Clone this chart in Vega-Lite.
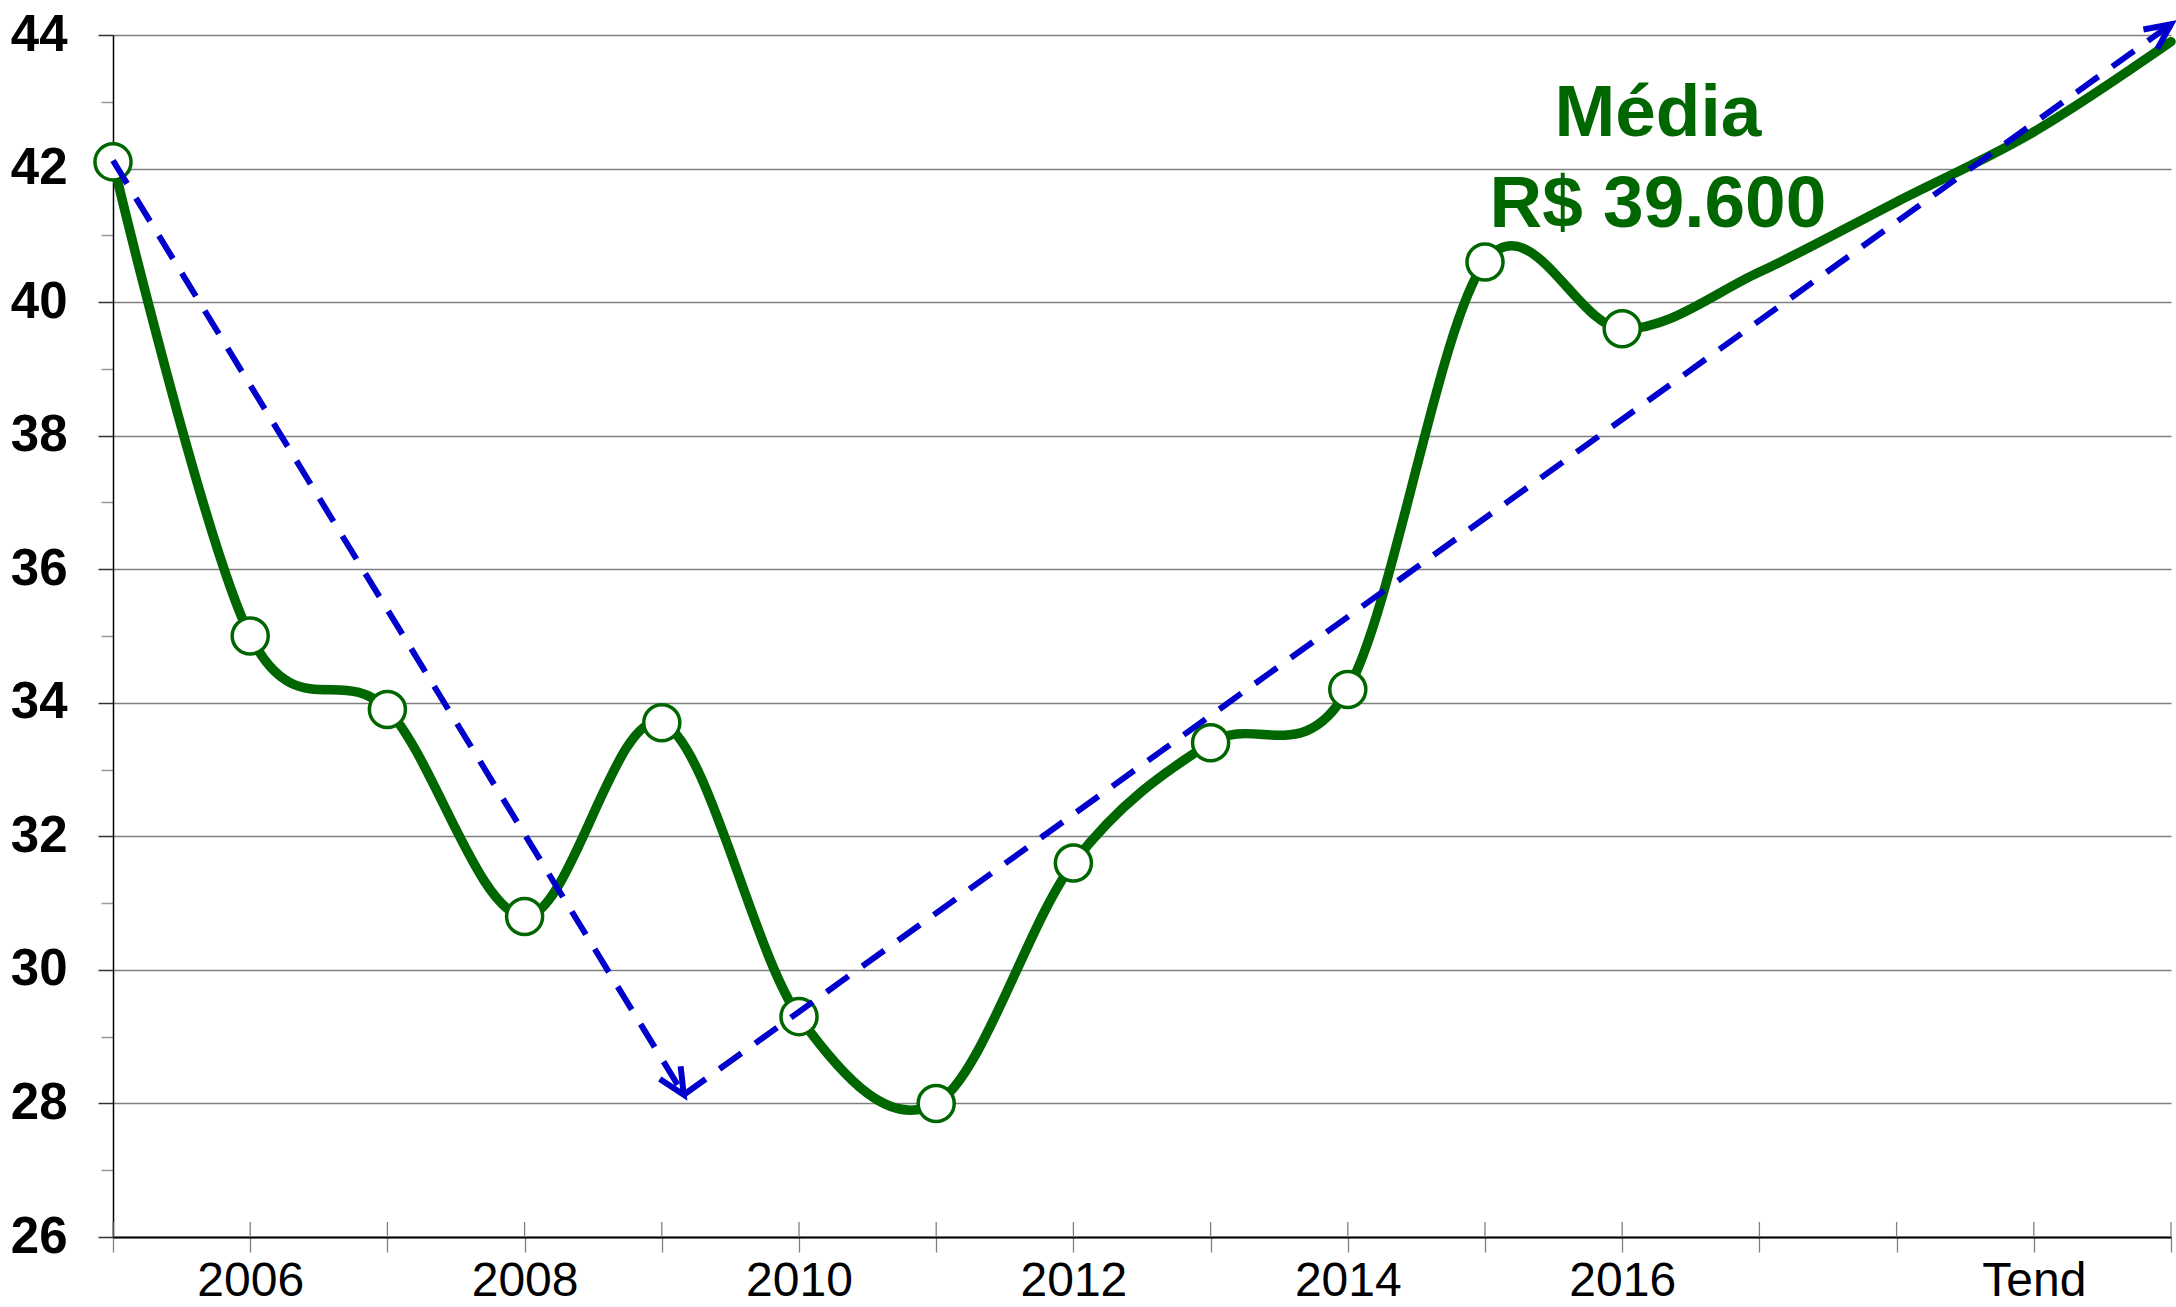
{
  "$schema": "https://vega.github.io/schema/vega-lite/v6.json",
  "width": 2058,
  "height": 1202,
  "autosize": {"type": "none"},
  "padding": {"left": 113, "top": 35, "right": 5, "bottom": 70},
  "background": "white",
  "config": {"view": {"stroke": null}, "font": "Liberation Sans"},
  "datasets": {
    "serie": [
      {"year": 2005, "value": 42.1},
      {"year": 2006, "value": 35.0},
      {"year": 2007, "value": 33.9},
      {"year": 2008, "value": 30.8},
      {"year": 2009, "value": 33.7},
      {"year": 2010, "value": 29.3},
      {"year": 2011, "value": 28.0},
      {"year": 2012, "value": 31.6},
      {"year": 2013, "value": 33.4},
      {"year": 2014, "value": 34.2},
      {"year": 2015, "value": 40.6},
      {"year": 2016, "value": 39.6},
      {"year": 2017, "value": 40.45},
      {"year": 2018, "value": 41.5},
      {"year": 2019, "value": 42.55},
      {"year": 2020, "value": 43.9}
    ],
    "trend": [
      {"seg": "a", "pt": "start", "year": 2005, "value": 42.12},
      {"seg": "a", "pt": "end", "year": 2009.16, "value": 28.13},
      {"seg": "b", "pt": "start", "year": 2009.16, "value": 28.13},
      {"seg": "b", "pt": "end", "year": 2020, "value": 44.16}
    ],
    "notes": [
      {"line1": "Média", "line2": "R$ 39.600", "year": 2016.26, "value": 42.49}
    ]
  },
  "layer": [
    {
      "data": {"name": "serie"},
      "mark": {"type": "rule", "color": "#808080", "strokeWidth": 1.3},
      "encoding": {
        "x": {"field": "year", "type": "quantitative"},
        "y": {"datum": 26},
        "y2": {"datum": 26.225}
      }
    },
    {
      "data": {"name": "serie"},
      "mark": {"type": "line", "interpolate": "cardinal", "color": "#006600", "strokeWidth": 9.5, "strokeCap": "round", "strokeJoin": "round"},
      "encoding": {
        "x": {
          "field": "year", "type": "quantitative",
          "scale": {"domain": [2005, 2020], "nice": false, "zero": false},
          "axis": {
            "title": null,
            "values": [2005, 2006, 2007, 2008, 2009, 2010, 2011, 2012, 2013, 2014, 2015, 2016, 2017, 2018, 2019, 2020],
            "labelExpr": "datum.value == 2019 ? 'Tend' : ((datum.value % 2 == 0 && datum.value >= 2006 && datum.value <= 2016) ? '' + datum.value : '')",
            "labelFont": "Liberation Sans",
            "labelFontSize": 48,
            "labelFontWeight": "normal",
            "labelColor": "black",
            "labelPadding": 5,
            "labelFlush": false,
            "labelOverlap": false,
            "labelBound": false,
            "tickSize": 15,
            "tickColor": "#808080",
            "tickWidth": 1.3,
            "domainColor": "black",
            "domainWidth": 2,
            "grid": false
          }
        },
        "y": {
          "field": "value", "type": "quantitative",
          "scale": {"domain": [26, 44], "nice": false, "zero": false},
          "axis": {
            "title": null,
            "values": [26, 27, 28, 29, 30, 31, 32, 33, 34, 35, 36, 37, 38, 39, 40, 41, 42, 43, 44],
            "labelExpr": "datum.value % 2 == 0 ? '' + datum.value : ''",
            "labelFont": "Liberation Sans",
            "labelFontSize": 51,
            "labelFontWeight": "bold",
            "labelColor": "black",
            "labelPadding": 31,
            "labelOverlap": false,
            "labelBound": false,
            "tickSize": {"condition": {"test": "datum.value % 2 == 1", "value": 12}, "value": 15},
            "tickColor": {"condition": {"test": "datum.value % 2 == 1", "value": "#999999"}, "value": "#333333"},
            "tickWidth": 1.5,
            "domainColor": "black",
            "domainWidth": 1.5,
            "grid": true,
            "gridColor": "#7f7f7f",
            "gridWidth": 1.3,
            "gridOpacity": {"condition": {"test": "datum.value % 2 == 1", "value": 0}, "value": 1}
          }
        }
      }
    },
    {
      "data": {"name": "serie"},
      "transform": [{"filter": "datum.year <= 2016"}],
      "mark": {"type": "point", "shape": "circle", "filled": true, "fill": "white", "stroke": "#006600", "strokeWidth": 3.5, "size": 1300, "opacity": 1},
      "encoding": {
        "x": {"field": "year", "type": "quantitative"},
        "y": {"field": "value", "type": "quantitative"}
      }
    },
    {
      "data": {"name": "trend"},
      "mark": {"type": "line", "color": "#0000CC", "strokeWidth": 6, "strokeDash": [27, 17], "strokeCap": "butt"},
      "encoding": {
        "x": {"field": "year", "type": "quantitative"},
        "y": {"field": "value", "type": "quantitative"},
        "detail": {"field": "seg"},
        "order": {"field": "year"}
      }
    },
    {
      "data": {"name": "trend"},
      "transform": [{"filter": "datum.seg == 'a' && datum.pt == 'end'"}],
      "mark": {"type": "point", "shape": "M -1 -0.47 L 0 0 L -1 0.47", "filled": false, "stroke": "#0000CC", "strokeWidth": 6, "size": 2700, "angle": 58.55, "opacity": 1, "strokeJoin": "miter"},
      "encoding": {
        "x": {"field": "year", "type": "quantitative"},
        "y": {"field": "value", "type": "quantitative"}
      }
    },
    {
      "data": {"name": "trend"},
      "transform": [{"filter": "datum.seg == 'b' && datum.pt == 'end'"}],
      "mark": {"type": "point", "shape": "M -1 -0.47 L 0 0 L -1 0.47", "filled": false, "stroke": "#0000CC", "strokeWidth": 6, "size": 2580, "angle": 324.25, "opacity": 1, "strokeJoin": "miter"},
      "encoding": {
        "x": {"field": "year", "type": "quantitative"},
        "y": {"field": "value", "type": "quantitative"}
      }
    },
    {
      "data": {"name": "notes"},
      "mark": {"type": "text", "font": "Liberation Sans", "fontSize": 73, "fontWeight": "bold", "color": "#006600", "align": "center", "baseline": "alphabetic"},
      "encoding": {
        "x": {"field": "year", "type": "quantitative"},
        "y": {"field": "value", "type": "quantitative"},
        "text": {"field": "line1"}
      }
    },
    {
      "data": {"name": "notes"},
      "mark": {"type": "text", "font": "Liberation Sans", "fontSize": 73, "fontWeight": "bold", "color": "#006600", "align": "center", "baseline": "alphabetic", "dy": 90.7},
      "encoding": {
        "x": {"field": "year", "type": "quantitative"},
        "y": {"field": "value", "type": "quantitative"},
        "text": {"field": "line2"}
      }
    }
  ]
}
